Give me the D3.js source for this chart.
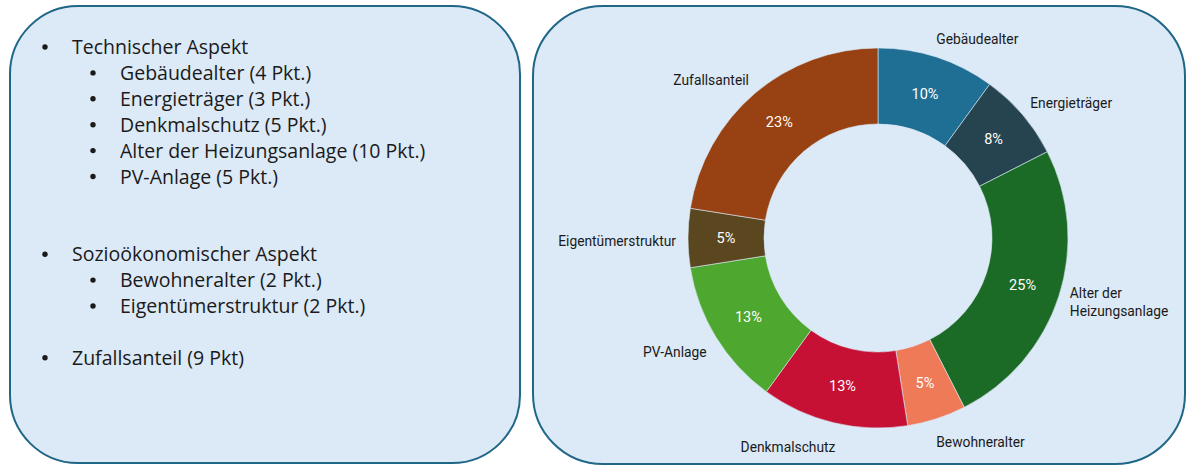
<!DOCTYPE html>
<html>
<head>
<meta charset="utf-8">
<script src="https://cdn.jsdelivr.net/npm/d3@7"></script>
<style>
  html, body { margin: 0; padding: 0; background: #fff; }
  svg { display: block; }
  .bullet-text { font-family: "Open Sans", sans-serif; font-size: 19.5px; fill: #1a1a1a; }
  .slice-label { font-family: "Roboto", sans-serif; font-size: 13.8px; fill: #1a1a1a; }
  .pct-label { font-family: "Roboto", sans-serif; font-size: 14.5px; fill: #fff; }
</style>
</head>
<body>
<div id="chart"></div>
<script>
const width = 1186;
const height = 466;

// slices, clockwise from 12 o'clock
const categories = ["Gebäudealter", "Energieträger", "Alter der Heizungsanlage", "Bewohneralter",
  "Denkmalschutz", "PV-Anlage", "Eigentümerstruktur", "Zufallsanteil"];
const points = [4, 3, 10, 2, 5, 5, 2, 9];
const colors = ["#1f6e94", "#25444f", "#1b6b26", "#ef7a58", "#c61034", "#4ea72f", "#5a4720", "#984112"];
// label text split into lines
const labelLines = [["Gebäudealter"], ["Energieträger"], ["Alter der", "Heizungsanlage"], ["Bewohneralter"],
  ["Denkmalschutz"], ["PV-Anlage"], ["Eigentümerstruktur"], ["Zufallsanteil"]];

// bullet list on the left
const listItems = [
  {level: 0, text: "Technischer Aspekt"},
  {level: 1, text: "Gebäudealter (4 Pkt.)"},
  {level: 1, text: "Energieträger (3 Pkt.)"},
  {level: 1, text: "Denkmalschutz (5 Pkt.)"},
  {level: 1, text: "Alter der Heizungsanlage (10 Pkt.)"},
  {level: 1, text: "PV-Anlage (5 Pkt.)"},
  {level: -1},
  {level: -1},
  {level: 0, text: "Sozioökonomischer Aspekt"},
  {level: 1, text: "Bewohneralter (2 Pkt.)"},
  {level: 1, text: "Eigentümerstruktur (2 Pkt.)"},
  {level: -1},
  {level: 0, text: "Zufallsanteil (9 Pkt)"}
];

const svg = d3.select("#chart").append("svg")
  .attr("width", width)
  .attr("height", height);

// panels
svg.append("rect")
  .attr("x", 10).attr("y", 6)
  .attr("width", 510).attr("height", 457)
  .attr("rx", 68).attr("ry", 68)
  .attr("fill", "#dce9f6")
  .attr("stroke", "#1f6687")
  .attr("stroke-width", 2);

svg.append("rect")
  .attr("x", 533).attr("y", 6)
  .attr("width", 652).attr("height", 458)
  .attr("rx", 70).attr("ry", 70)
  .attr("fill", "#dce9f6")
  .attr("stroke", "#1f6687")
  .attr("stroke-width", 2);

// bullet list
const lineH = 25.9;
const list = svg.append("g").attr("transform", "translate(0,47)");
listItems.forEach(function (d, i) {
  if (d.level < 0) return;
  let y = i * lineH;
  let bx = d.level === 0 ? 45 : 93;
  list.append("circle")
    .attr("cx", bx).attr("cy", y)
    .attr("r", 2.7)
    .attr("fill", "#1a1a1a");
  list.append("text")
    .attr("class", "bullet-text")
    .attr("x", bx + 27).attr("y", y)
    .attr("dy", "0.36em")
    .text(d.text);
});

// donut
const cx = 878, cy = 238;
const outerR = 190, innerR = 114;
const total = d3.sum(points);

const pie = d3.pie().sort(null).value(d => d)(points);
const arc = d3.arc().innerRadius(innerR).outerRadius(outerR);
const labelArc = d3.arc().innerRadius(208).outerRadius(208);

const g = svg.append("g").attr("transform", `translate(${cx},${cy})`);

g.selectAll("path.slice")
  .data(pie)
  .join("path")
  .attr("class", "slice")
  .attr("d", arc)
  .attr("fill", (d, i) => colors[i])
  .attr("stroke", "#dce9f6")
  .attr("stroke-width", 0.6);

g.selectAll("text.pct-label")
  .data(pie)
  .join("text")
  .attr("class", "pct-label")
  .attr("transform", d => `translate(${arc.centroid(d)})`)
  .attr("text-anchor", "middle")
  .attr("dy", "0.35em")
  .text(d => d3.format(".0f")(d.value / total * 100 + 0.001) + "%");

const labels = g.selectAll("g.slice-label")
  .data(pie)
  .join("g")
  .attr("class", "slice-label")
  .attr("transform", function (d) {
    let [x, y] = labelArc.centroid(d);
    let mid = (d.startAngle + d.endAngle) / 2;
    // small push away from the ring, vertically
    let yOff = 3 - Math.cos(mid) * 4;
    return `translate(${x},${y + yOff})`;
  });

labels.each(function (d, i) {
  let mid = (d.startAngle + d.endAngle) / 2;
  let right = Math.sin(mid) > 0.05;
  let lines = labelLines[i];
  let t = d3.select(this).append("text")
    .attr("class", "slice-label")
    .attr("text-anchor", right ? "start" : "end");
  lines.forEach(function (line, j) {
    t.append("tspan")
      .attr("x", right ? -6 : 6)
      .attr("y", (j - (lines.length - 1) / 2) * 18 - (lines.length - 1) * 4)
      .attr("dy", "0.35em")
      .text(line);
  });
});
</script>
</body>
</html>
